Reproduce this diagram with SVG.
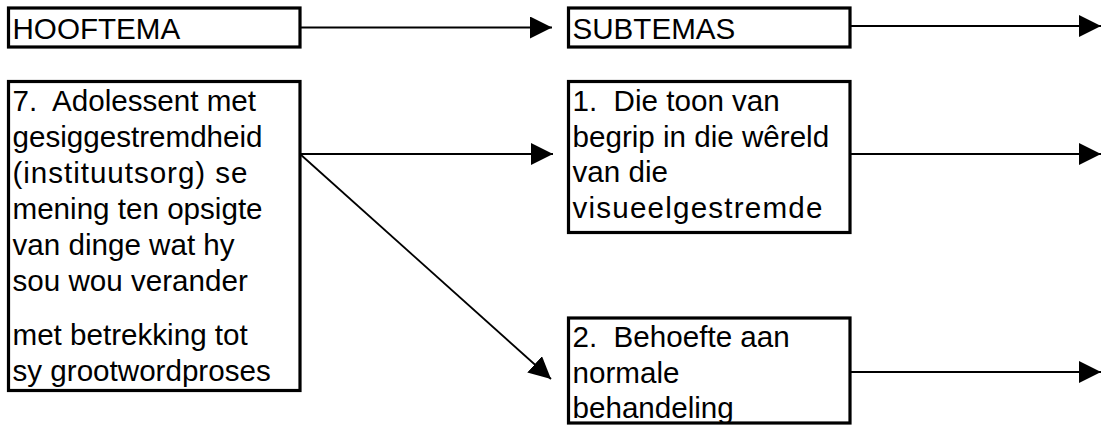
<svg xmlns="http://www.w3.org/2000/svg" width="1103" height="432" viewBox="0 0 1103 432">
<defs>
<marker id="ah" markerUnits="userSpaceOnUse" markerWidth="23" markerHeight="23" refX="22" refY="11" orient="auto" viewBox="0 0 23 23">
<path d="M0,0 L22,11 L0,22 Z" fill="#000"/>
</marker>
<style>
.box{fill:#fff;stroke:#000;stroke-width:3.2}
.t{font-family:"Liberation Sans",Arial,sans-serif;font-size:29.6px;fill:#000;white-space:pre}
.c{stroke:#000;stroke-width:1.8;fill:none;marker-end:url(#ah)}
</style>
</defs>
<rect width="1103" height="432" fill="#fff"/>
<g id="connectors">
<line class="c" x1="300" y1="27.5" x2="552" y2="27.5"/>
<line class="c" x1="850" y1="26" x2="1101" y2="26"/>
<line class="c" x1="300" y1="154" x2="553" y2="154"/>
<line class="c" x1="850" y1="154" x2="1101" y2="154"/>
<line class="c" x1="300" y1="154" x2="551" y2="379"/>
<line class="c" x1="850" y1="372" x2="1101" y2="372"/>
</g>
<g id="hooftema">
<rect class="box" x="8.5" y="8" width="291.5" height="39"/>
<text class="t" x="12.5" y="38.5">HOOFTEMA</text>
</g>
<g id="subtemas">
<rect class="box" x="568.5" y="8" width="281.5" height="39"/>
<text class="t" x="572.5" y="38.5">SUBTEMAS</text>
</g>
<g id="hooftema7">
<rect class="box" x="8.5" y="81.5" width="291.5" height="309"/>
<text class="t" x="12.5" y="111" xml:space="preserve">7.  Adolessent met</text>
<text class="t" x="12.5" y="147">gesiggestremdheid</text>
<text class="t" x="12.5" y="183" textLength="235" lengthAdjust="spacing">(instituutsorg) se</text>
<text class="t" x="12.5" y="219">mening ten opsigte</text>
<text class="t" x="12.5" y="255">van dinge wat hy</text>
<text class="t" x="12.5" y="291">sou wou verander</text>
<text class="t" x="12.5" y="345">met betrekking tot</text>
<text class="t" x="12.5" y="381">sy grootwordproses</text>
</g>
<g id="subtema1">
<rect class="box" x="568.5" y="81.5" width="281.5" height="151"/>
<text class="t" x="572.5" y="111" xml:space="preserve">1.  Die toon van</text>
<text class="t" x="572.5" y="146.5">begrip in die wêreld</text>
<text class="t" x="572.5" y="182">van die</text>
<text class="t" x="572.5" y="217.5" textLength="250" lengthAdjust="spacing">visueelgestremde</text>
</g>
<g id="subtema2">
<rect class="box" x="568.5" y="318" width="281.5" height="105"/>
<text class="t" x="572.5" y="347" xml:space="preserve">2.  Behoefte aan</text>
<text class="t" x="572.5" y="382.5">normale</text>
<text class="t" x="572.5" y="418">behandeling</text>
</g>
</svg>
